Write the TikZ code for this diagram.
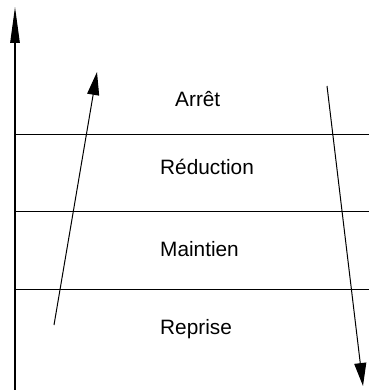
\documentclass[tikz,border=0pt]{standalone}
\usepackage{fontspec}
\setmainfont{Liberation Sans}
\usetikzlibrary{arrows.meta}
\begin{document}
\begin{tikzpicture}[x=1pt,y=-1pt,
  rule/.style={line width=1pt},
  axis/.style={line width=1.1pt,-{Triangle[length=36pt,width=9.5pt]}},
  flow/.style={line width=1pt,-{Triangle[length=23pt,width=12pt]}},
  phase/.style={anchor=base west,inner sep=0pt,font=\fontsize{20.8}{24}\selectfont}]
\useasboundingbox (0,0) rectangle (369,390);
% vertical axis
\coordinate (axisbot) at (15,390);
\coordinate (axistop) at (15,7);
\draw[axis] (axisbot) -- (axistop);
% phase separators
\foreach \y/\n in {135/a,211.5/b,289/c}{
  \coordinate (l\n) at (15,\y);
  \coordinate (r\n) at (369,\y);
  \draw[rule] (l\n) -- (r\n);
}
% phase labels
\node[phase] (arret) at (175,106.7) {Arrêt};
\node[phase] (reduc) at (160,174.3) {Réduction};
\node[phase] (maint) at (160,256.7) {Maintien};
\node[phase] (repr)  at (160,334) {Reprise};
% rising and falling arrows
\coordinate (upstart) at (54,325);
\coordinate (upend) at (97,72);
\draw[flow] (upstart) -- (upend);
\coordinate (downstart) at (327,86);
\coordinate (downend) at (363,386);
\draw[flow] (downstart) -- (downend);
\end{tikzpicture}
\end{document}
